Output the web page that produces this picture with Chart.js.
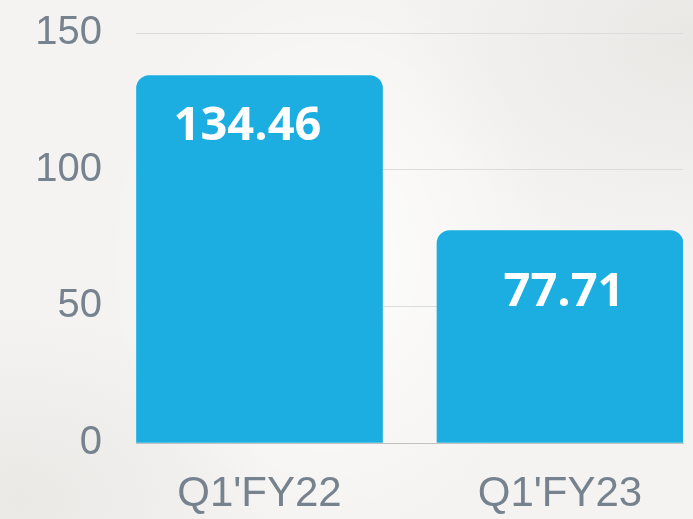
<!DOCTYPE html>
<html>
<head>
<meta charset="utf-8">
<script src="https://cdn.jsdelivr.net/npm/chart.js@4"></script>
<style>
  html, body { margin: 0; padding: 0; }
  body {
    width: 693px; height: 519px; overflow: hidden;
    background:
      radial-gradient(ellipse 420px 300px at 690px 40px, rgba(225,223,219,0.55), rgba(255,255,255,0) 70%),
      radial-gradient(ellipse 360px 260px at 20px 500px, rgba(228,226,222,0.6), rgba(255,255,255,0) 70%),
      radial-gradient(ellipse 300px 380px at 330px 260px, rgba(255,255,255,0.9), rgba(255,255,255,0) 75%),
      #f4f3f1;
  }
  canvas { display: block; }
</style>
</head>
<body>
<canvas id="barChart" width="693" height="519"></canvas>
<script>
/* ── Data ── */
const categories = ["Q1'FY22", "Q1'FY23"];
const revenue    = [134.46, 77.71];
const yTicks     = [0, 50, 100, 150];

const BAR_BLUE  = '#1caee1';
const AXIS_GREY = '#76838e';
const TICK_FONT = "'Liberation Sans', Arial, sans-serif";
const X_MIN = -0.411, X_MAX = 1.4093;

/* value labels inside the bars */
const barValueLabels = {
  id: 'barValueLabels',
  afterDatasetsDraw(chart) {
    const { ctx } = chart;
    const nudge = [[-12, 51], [4, 62]];
    ctx.save();
    ctx.fillStyle = '#ffffff';
    ctx.font = "bold 47px 'Open Sans', sans-serif";
    ctx.textAlign = 'center';
    ctx.textBaseline = 'middle';
    chart.getDatasetMeta(0).data.forEach((bar, i) => {
      ctx.fillText(revenue[i].toFixed(2), bar.x + nudge[i][0], bar.y + nudge[i][1]);
    });
    ctx.restore();
  }
};

new Chart(document.getElementById('barChart'), {
  type: 'bar',
  data: {
    datasets: [{
      data: revenue.map((v, i) => ({ x: i, y: v })),
      backgroundColor: BAR_BLUE,
      borderRadius: { topLeft: 13, topRight: 13 },
      borderSkipped: 'bottom',
      barThickness: 246,
    }],
  },
  options: {
    responsive: false,
    animation: false,
    devicePixelRatio: 1,
    layout: { padding: { top: 0, right: 10, bottom: 0, left: 0 } },
    plugins: { legend: { display: false }, tooltip: { enabled: false } },
    scales: {
      x: {
        type: 'linear',
        offset: false,
        bounds: 'data',
        min: X_MIN,
        max: X_MAX,
        afterBuildTicks: s => {
          s.ticks = categories.map((_, i) => ({ value: i }));
          s.min = X_MIN; s.max = X_MAX;
        },
        afterFit: s => { s.height = 76; s.paddingLeft = 0; s.paddingRight = 0; },
        grid: { display: false },
        border: { color: '#c2c2c2', width: 1 },
        ticks: {
          padding: 18,
          color: AXIS_GREY,
          font: { family: TICK_FONT, size: 42 },
          callback: v => categories[v] ?? '',
          maxRotation: 0,
          autoSkip: false,
        },
      },
      y: {
        min: 0,
        max: 150,
        afterBuildTicks: s => { s.ticks = yTicks.map(v => ({ value: v })); },
        afterFit: s => { s.width = 136; s.paddingTop = 33; s.paddingBottom = 0; },
        grid: { color: '#dcdcdc', drawTicks: false },
        border: { display: false },
        ticks: {
          padding: 34,
          color: AXIS_GREY,
          font: { family: TICK_FONT, size: 40 },
        },
      },
    },
  },
  plugins: [barValueLabels],
});
</script>
</body>
</html>
